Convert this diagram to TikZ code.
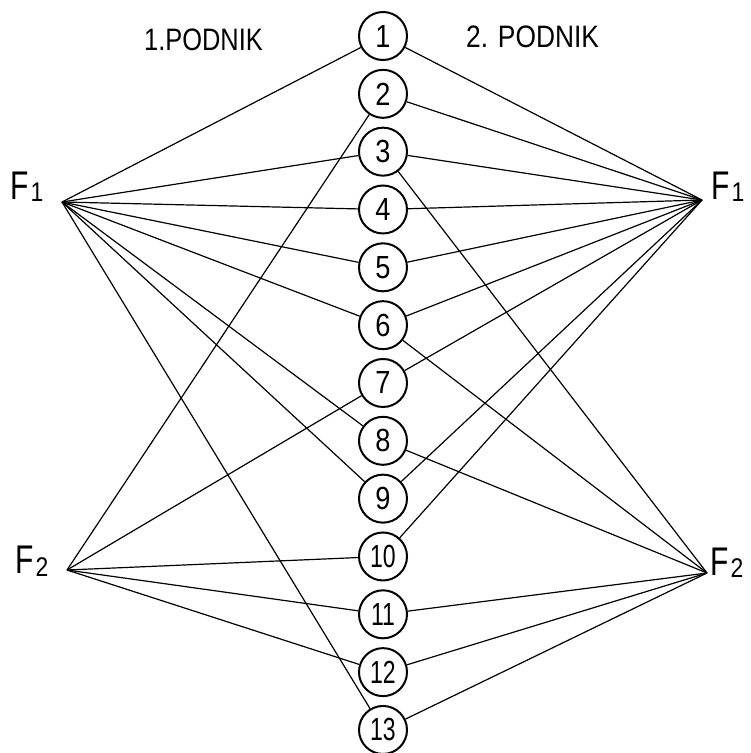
\documentclass[tikz,border=0pt]{standalone}
\usepackage{fontspec}
\setmainfont{Liberation Sans}
\newcommand{\fsub}[2]{\scalebox{0.75}[1]{F}\hspace{2pt}\raisebox{#1}{\fontsize{27}{27}\selectfont\scalebox{0.85}[1]{#2}}}
\begin{document}
\begin{tikzpicture}[x=1pt,y=-1pt,
  num/.style={circle,draw,line width=2pt,minimum size=48pt,inner sep=0pt,
              font=\fontsize{32}{32}\selectfont},
  edge/.style={line width=1.2pt},
  lbl/.style={inner sep=0pt,anchor=base west},
  bigf/.style={lbl,font=\fontsize{40}{40}\selectfont},
  head/.style={lbl,font=\fontsize{31}{31}\selectfont}]
\useasboundingbox (0,0) rectangle (751,753);
% circles
\foreach \i in {1,...,9}{
  \node[num] (c\i) at (383,{36+(\i-1)*57.83}) {\scalebox{0.85}[1]{\i}};
}
\foreach \i in {10,...,13}{
  \node[num] (c\i) at (383,{36+(\i-1)*57.83}) {\scalebox{0.72}[1]{\i}};
}
% apex points
\coordinate (lF1) at (62,202);
\coordinate (rF1) at (702,200);
\coordinate (lF2) at (67,570);
\coordinate (rF2) at (707,573);
% labels
\node[bigf] (tlF1) at (10,199) {\fsub{-2pt}{1}};
\node[bigf] (trF1) at (711,199) {\fsub{-2pt}{1}};
\node[bigf] (tlF2) at (15,573) {\fsub{-3pt}{2}};
\node[bigf] (trF2) at (710,575) {\fsub{-2pt}{2}};
\node[head] (h1) at (144,50) {\scalebox{0.82}[1]{1.PODNIK}};
\node[head] (h2) at (466,47) {\scalebox{0.85}[1]{2. PODNIK}};
% edges
\foreach \i in {1,3,4,5,6,8,9,13}{ \draw[edge] (lF1) -- (c\i); }
\foreach \i in {1,2,3,4,5,6,7,9,10}{ \draw[edge] (rF1) -- (c\i); }
\foreach \i in {2,7,10,11,12}{ \draw[edge] (lF2) -- (c\i); }
\foreach \i in {3,6,8,11,12,13}{ \draw[edge] (rF2) -- (c\i); }
\end{tikzpicture}
\end{document}
